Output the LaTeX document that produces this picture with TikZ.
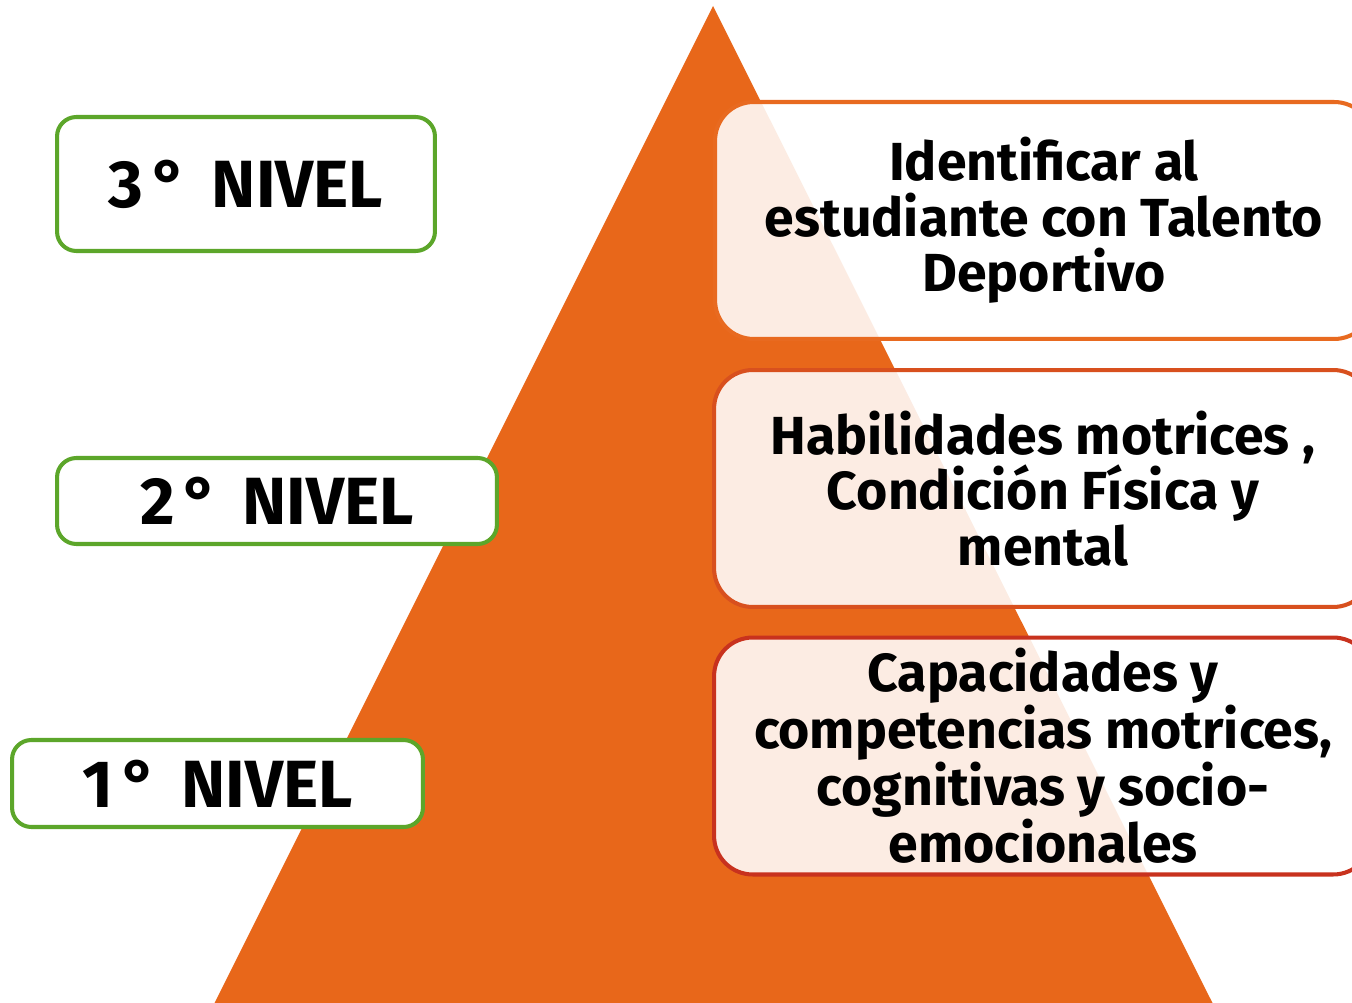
\documentclass[tikz,border=0pt]{standalone}
\usepackage{fontspec}
\setmainfont{Fira Sans}
\usetikzlibrary{positioning}
\definecolor{naranja}{RGB}{232,103,26}
\definecolor{verde}{RGB}{92,166,42}
\definecolor{borde1}{RGB}{232,106,32}
\definecolor{borde2}{RGB}{216,80,30}
\definecolor{borde3}{RGB}{200,50,30}
\newcommand{\grado}[1]{#1\hspace{5pt}°\hspace{14pt}NIVEL}
\tikzset{
  nivel/.style={draw=verde, line width=2.3pt, rounded corners=11pt, fill=white,
    inner sep=0pt, font=\bfseries\fontsize{38}{40}\selectfont},
  meta/.style={line width=2.3pt, rounded corners=22pt, fill=white, fill opacity=0.88,
    text opacity=1, minimum width=13.16cm, minimum height=4.74cm, inner sep=0pt,
    align=center, font=\bfseries\fontsize{30.5}{31.5}\selectfont}
}
\begin{document}
\begin{tikzpicture}[x=0.02cm,y=-0.02cm]
\useasboundingbox (0,0) rectangle (1352,1003);
\clip (0,0) rectangle (1352,1003);
% piramide
\fill[naranja] (713,6) -- (211,1010) -- (1216,1010) -- cycle;
% niveles
\node[nivel, minimum width=7.56cm, minimum height=2.68cm] (nivel3) at (246,184) {\grado{3}};
\node[nivel, minimum width=8.8cm, minimum height=1.72cm] (nivel2) at (277,501) {\grado{2}};
\node[nivel, minimum width=8.22cm, minimum height=1.74cm] (nivel1) at (217.5,783.5) {\grado{1}};
% objetivos
\node[meta, draw=borde1] (meta3) at (1044,220.5) {Identificar al\\estudiante con Talento\\Deportivo};
\node[meta, draw=borde2] (meta2) at (1043,488.5) {Habilidades motrices ,\\Condición Física y\\mental};
\node[meta, draw=borde3] (meta1) at (1043,756) {Capacidades y\\competencias motrices,\\cognitivas y socio-\\emocionales};
\end{tikzpicture}
\end{document}
